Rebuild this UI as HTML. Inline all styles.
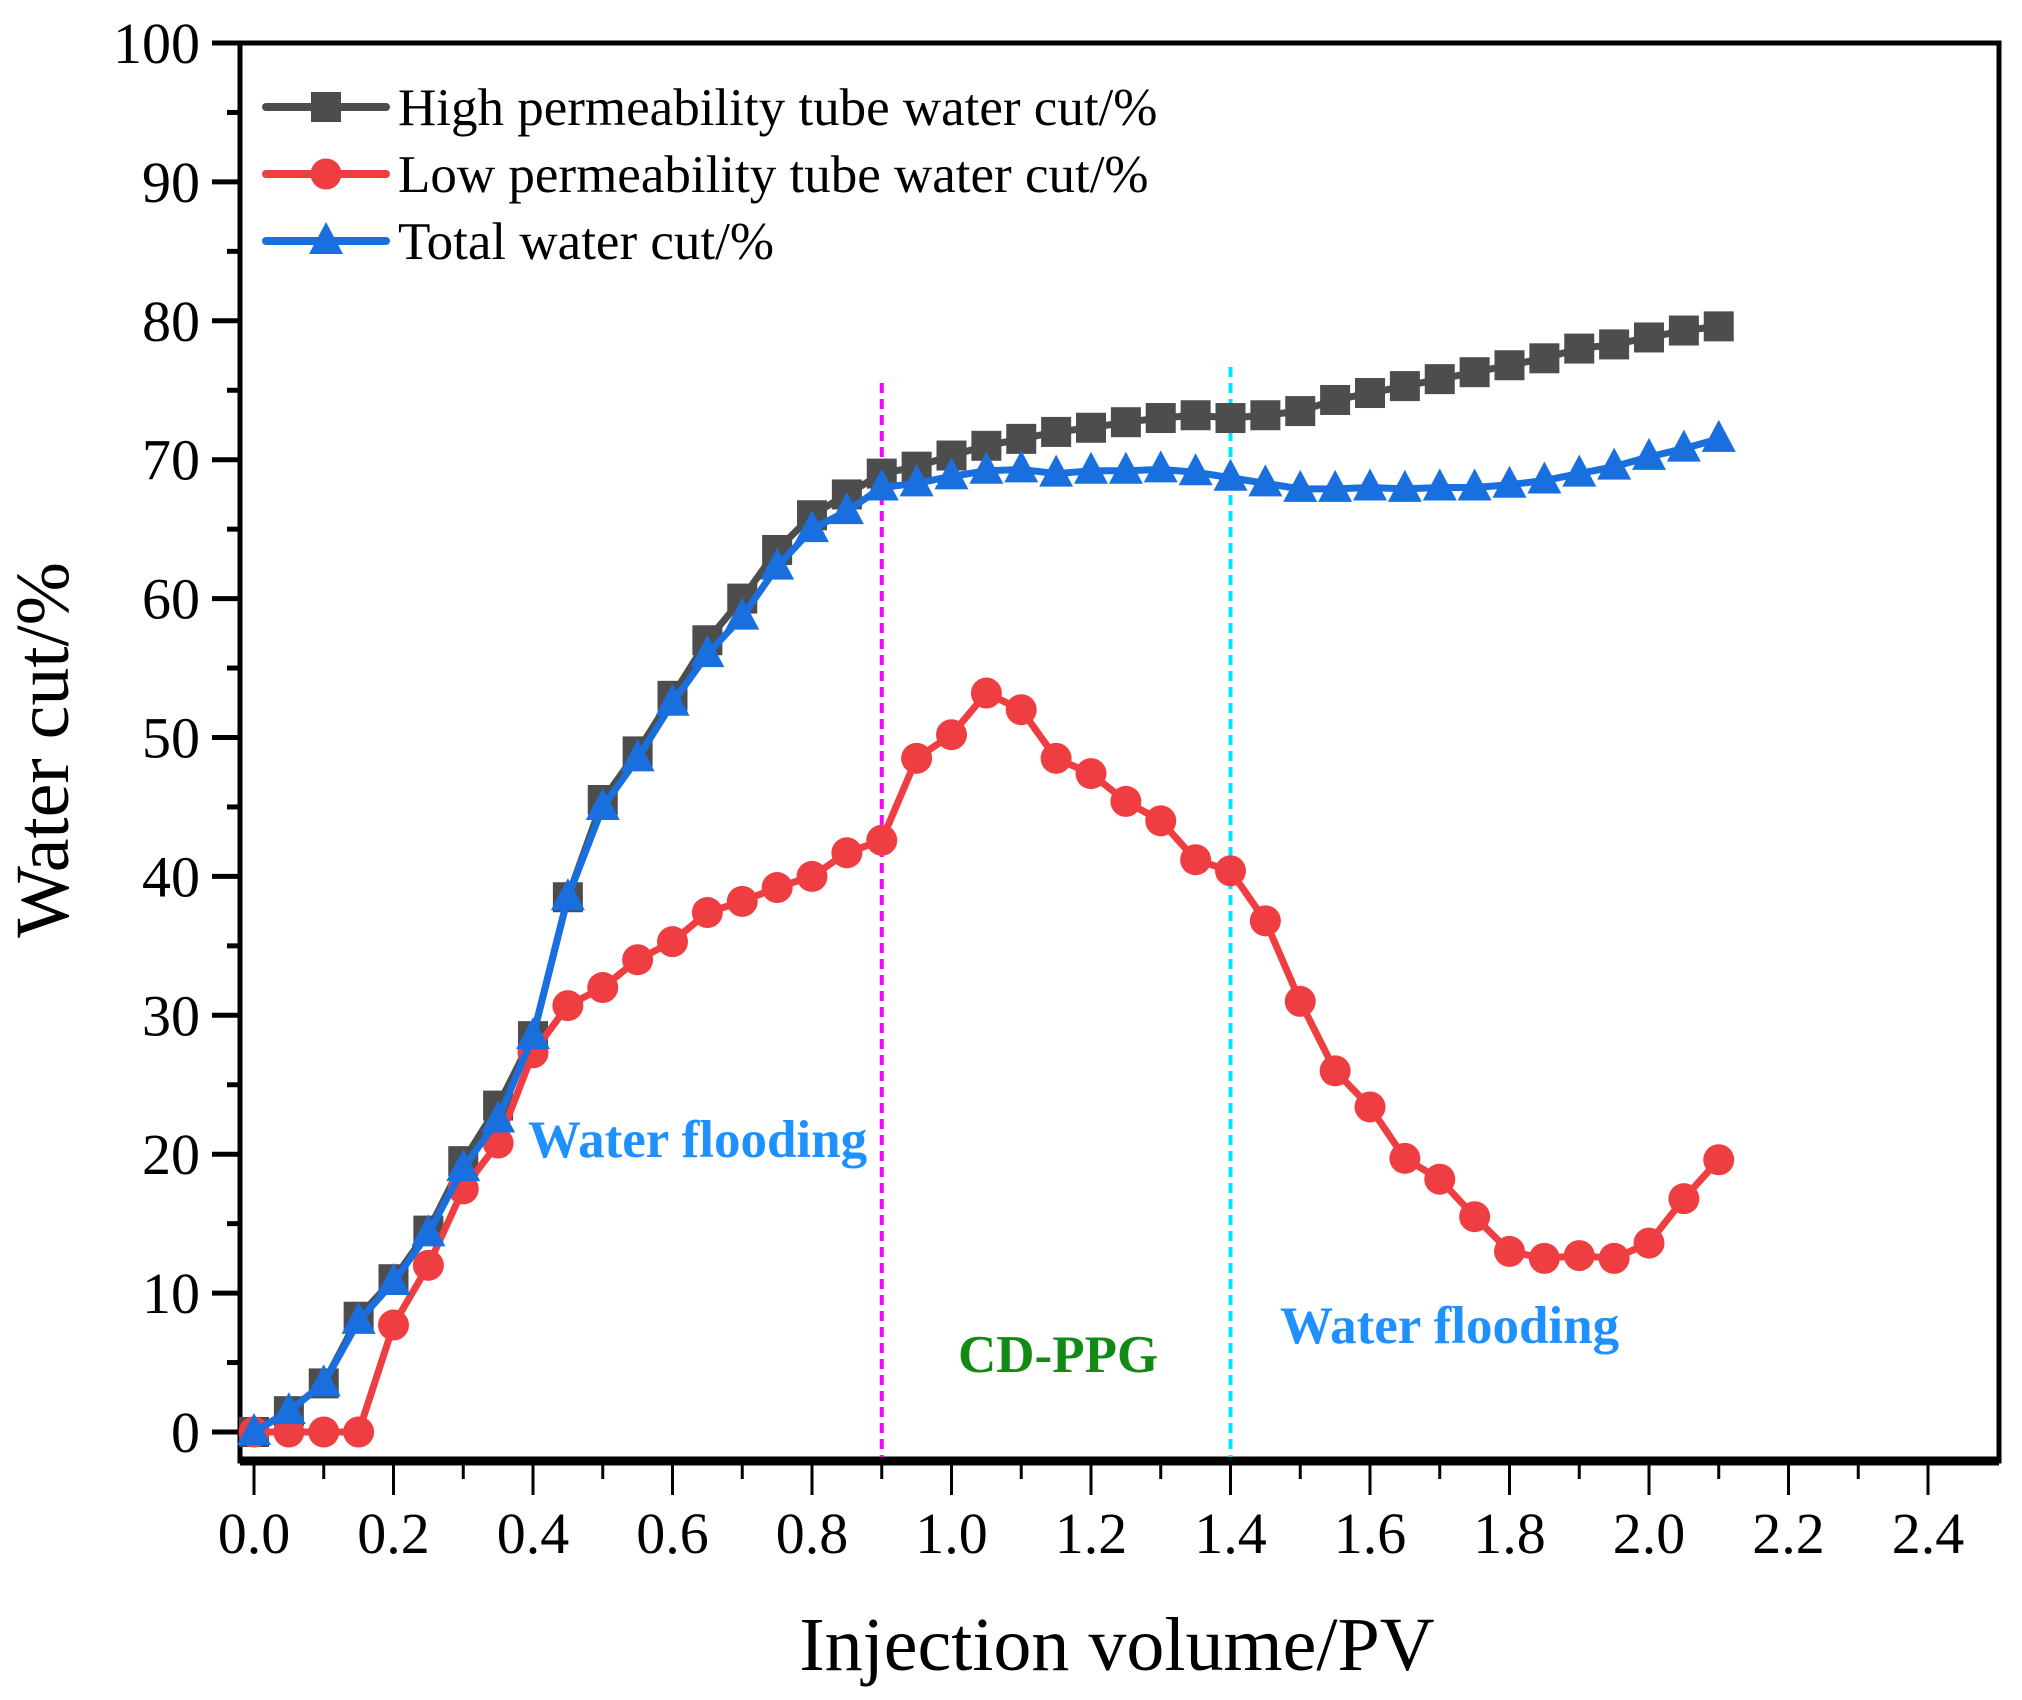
<!DOCTYPE html>
<html><head><meta charset="utf-8"><style>
html,body{margin:0;padding:0;background:#fff}
svg{display:block}
text{font-family:"Liberation Serif",serif}
</style></head><body>
<svg id="chart" width="2022" height="1700" viewBox="0 0 2022 1700" xmlns="http://www.w3.org/2000/svg">
<g id="axes"></g>
<g id="annotations"></g>
<g id="series"></g>
<g id="legend"></g>
</svg>
<script>
const xValues = [0,0.05,0.1,0.15,0.2,0.25,0.3,0.35,0.4,0.45,0.5,0.55,0.6,0.65,0.7,0.75,0.8,0.85,0.9,0.95,1.0,1.05,1.1,1.15,1.2,1.25,1.3,1.35,1.4,1.45,1.5,1.55,1.6,1.65,1.7,1.75,1.8,1.85,1.9,1.95,2.0,2.05,2.1];
const highPerm = [0,1.5,3.5,8.3,11,14.5,19.5,23.5,28.5,38.5,45.5,49,53,57,60,63.5,66,67.5,69,69.5,70.3,71,71.5,72,72.3,72.7,73,73.2,73,73.2,73.5,74.3,74.8,75.3,75.8,76.3,76.8,77.3,78,78.3,78.8,79.3,79.6];
const lowPerm = [0,0,0,0,7.7,12,17.5,20.8,27.3,30.7,32,34,35.3,37.4,38.2,39.2,40,41.7,42.6,48.5,50.2,53.2,52,48.5,47.4,45.4,44,41.2,40.4,36.8,31,26,23.4,19.7,18.2,15.5,13,12.5,12.7,12.5,13.6,16.8,19.6];
const totalCut = [0,1.5,3.5,8,10.8,14.3,19,22.5,28.5,38.5,45,48.5,52.5,56,58.7,62.3,65,66.3,68,68.3,68.8,69.2,69.3,69,69.2,69.2,69.3,69.1,68.7,68.3,67.9,67.9,68,67.9,68,68,68.2,68.5,69,69.5,70.2,70.8,71.5];
const xTicks = ["0.0","0.2","0.4","0.6","0.8","1.0","1.2","1.4","1.6","1.8","2.0","2.2","2.4"];
const yTicks = ["0","10","20","30","40","50","60","70","80","90","100"];
const phaseLines = [0.9,1.4];

const NS="http://www.w3.org/2000/svg";
const L=240,R=1999,T=43,B=1461;
const sx=v=>254+(1928-254)*v/2.4;
const sy=v=>1432-(1432-43)*v/100;
function mk(tag,attrs,parent,txt){const e=document.createElementNS(NS,tag);for(const k in attrs)e.setAttribute(k,attrs[k]);if(txt!==undefined)e.textContent=txt;parent.appendChild(e);return e;}
const axes=document.getElementById('axes');
let fr=mk('rect',{x:L,y:T,width:R-L,height:B-T,fill:'none',stroke:'#000','stroke-width':5},axes);


let bl=mk('line',{x1:L,y1:B,x2:R,y2:B,stroke:'#000','stroke-width':9},axes);


yTicks.forEach(t=>{const v=+t;const y=sy(v);
 let tk=mk('line',{x1:L-28,y1:y,x2:L,y2:y,stroke:'#000','stroke-width':5},axes);
 
 
 if(v<100){let m=mk('line',{x1:L-13,y1:sy(v+5),x2:L,y2:sy(v+5),stroke:'#000','stroke-width':5},axes);
  
  }
 let tl=mk('text',{x:L-40,y:y+20,'font-size':58,'text-anchor':'end'},axes,t);
 
 
});
xTicks.forEach(t=>{const v=+t;const x=sx(v);
 let tk=mk('line',{x1:x,y1:B,x2:x,y2:B+34,stroke:'#000','stroke-width':3},axes);
 
 
 if(v+0.1<2.5){let m=mk('line',{x1:sx(v+0.1),y1:B,x2:sx(v+0.1),y2:B+18,stroke:'#000','stroke-width':3},axes);
  
  }
 let tl=mk('text',{x:x,y:B+92,'font-size':58,'text-anchor':'middle'},axes,t);
 
 
});
let xt=mk('text',{x:1117,y:1670,'font-size':76,'text-anchor':'middle'},axes,'Injection volume/PV');


let yt=mk('text',{x:0,y:0,'font-size':76,'text-anchor':'middle',transform:'translate(68,750) rotate(-90)'},axes,'Water cut/%');



const ann=document.getElementById('annotations');
const phaseColors=['#ff00ff','#00e5ff'];
const phaseTop=[383,367];
phaseLines.forEach((p,i)=>{let l=mk('line',{x1:sx(p),y1:phaseTop[i],x2:sx(p),y2:B-4,stroke:phaseColors[i],'stroke-width':4,'stroke-dasharray':'10,6'},ann);
 
 });
let a1=mk('text',{x:528,y:1157,'font-size':53,'font-weight':'bold',fill:'#1e90ff'},ann,'Water flooding');


let a2=mk('text',{x:958,y:1372,'font-size':53,'font-weight':'bold',fill:'#138a13'},ann,'CD-PPG');


let a3=mk('text',{x:1280,y:1343,'font-size':53,'font-weight':'bold',fill:'#1e90ff'},ann,'Water flooding');



const ser=document.getElementById('series');
function marker(shape,x,y,color,g){
 let m;
 if(shape==='square')m=mk('rect',{x:x-15,y:y-15,width:30,height:30,fill:color},g);
 else if(shape==='circle')m=mk('circle',{cx:x,cy:y,r:15.5,fill:color},g);
 else m=mk('polygon',{points:`${x},${y-19} ${x-17},${y+13} ${x+17},${y+13}`,fill:color},g);
 return m;
}
function drawSeries(vals,color,shape,name){
 const g=mk('g',{},ser);
 
 
 const pts=vals.map((v,i)=>sx(xValues[i])+','+sy(v)).join(' ');
 let pl=mk('polyline',{points:pts,fill:'none',stroke:color,'stroke-width':7,'stroke-linejoin':'round'},g);
 
 
 vals.forEach((v,i)=>{const m=marker(shape,sx(xValues[i]),sy(v),color,g);
  
  });
}
drawSeries(highPerm,'#4d4d4d','square','high-permeability-series');
drawSeries(lowPerm,'#ef3e42','circle','low-permeability-series');
drawSeries(totalCut,'#1a6fdf','triangle','total-water-cut-series');

const leg=document.getElementById('legend');
const legItems=[['High permeability tube water cut/%','#4d4d4d','square'],['Low permeability tube water cut/%','#ef3e42','circle'],['Total water cut/%','#1a6fdf','triangle']];
legItems.forEach((it,i)=>{const y=107+i*67;
 const g=mk('g',{},leg);
 
 
 mk('line',{x1:266,y1:y,x2:386,y2:y,stroke:it[1],'stroke-width':8,'stroke-linecap':'round'},g);
 marker(it[2],326,y,it[1],g);
 mk('text',{x:398,y:y+18,'font-size':53},g,it[0]);
});
</script>
</body></html>
